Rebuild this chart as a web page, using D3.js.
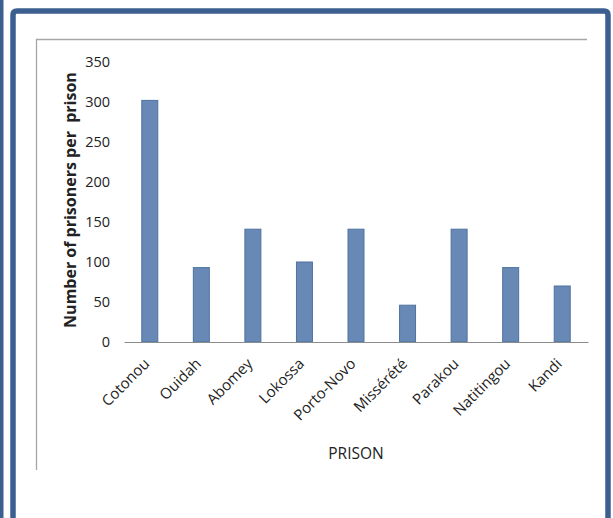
<!DOCTYPE html>
<html lang="en">
<head>
  <meta charset="UTF-8">
  <title>Number of prisoners per prison</title>
  <script src="https://d3js.org/d3.v7.min.js"></script>
  <style>
    body { margin: 0; background: #fff; }
    text { font-family: "Open Sans", "Liberation Sans", sans-serif; fill: #222; }
  </style>
</head>
<body>
  <div id="chart"></div>
  <script>
    const prisons = ["Cotonou", "Ouidah", "Abomey", "Lokossa", "Porto-Novo",
      "Missérété", "Parakou", "Natitingou", "Kandi"];
    const prisoners = [302, 93, 141, 100, 141, 46, 141, 93, 70];
    const y_ticks = [0, 50, 100, 150, 200, 250, 300, 350];

    const width = 613;
    const height = 518;
    const frame_color = "#3b6090";
    const bar_fill = "#6889b5";
    const bar_stroke = "#4d72a0";

    const svg = d3.select("#chart")
      .append("svg")
      .attr("width", width)
      .attr("height", height);

    // outer page frames
    svg.append("rect")
      .attr("x", 0).attr("y", 0)
      .attr("width", 3.5).attr("height", height)
      .attr("fill", frame_color);

    svg.append("path")
      .attr("d", "M13,540 V15 Q13,11 17,11 H604 Q608,11 608,15 V540")
      .attr("fill", "none")
      .attr("stroke", frame_color)
      .attr("stroke-width", 5.5);

    // chart area border (top + left only visible)
    svg.append("path")
      .attr("d", "M36.5,470 V39.5 H587")
      .attr("fill", "none")
      .attr("stroke", "#a6a6a6")
      .attr("stroke-width", 1.3);

    const x = d3.scaleBand()
      .domain(prisons)
      .range([124, 588])
      .paddingInner(0.69)
      .paddingOuter(0.345);

    const y = d3.scaleLinear()
      .domain([0, 350])
      .range([342, 62]);

    // bars
    svg.selectAll(".bar")
      .data(prisoners)
      .enter()
      .append("rect")
      .attr("class", "bar")
      .attr("x", (d, i) => x(prisons[i]))
      .attr("y", d => y(d))
      .attr("width", x.bandwidth())
      .attr("height", d => y(0) - y(d))
      .attr("fill", bar_fill)
      .attr("stroke", bar_stroke)
      .attr("stroke-width", 1);

    // y axis
    const yAxis = svg.append("g")
      .attr("transform", "translate(124,0)")
      .call(d3.axisLeft(y).tickValues(y_ticks).tickSize(0).tickPadding(14));
    yAxis.select(".domain").remove();
    yAxis.selectAll("text")
      .attr("font-size", 14.5)
      .style("font-family", "'Open Sans', sans-serif")
      .attr("fill", "#222");

    // x axis
    const xAxis = svg.append("g")
      .attr("transform", "translate(0,342)")
      .call(d3.axisBottom(x).tickSize(0).tickSizeOuter(0));
    xAxis.select(".domain")
      .attr("stroke", "#8c8c8c")
      .attr("stroke-width", 1.2);
    xAxis.selectAll("text")
      .attr("font-size", 15)
      .style("font-family", "'Open Sans', sans-serif")
      .attr("fill", "#222")
      .attr("text-anchor", "end")
      .attr("transform", "translate(-3,19) rotate(-45)")
      .attr("dy", "0.35em")
      .attr("y", 0);

    // axis titles
    svg.append("text")
      .attr("transform", "translate(76,200) rotate(-90)")
      .attr("text-anchor", "middle")
      .attr("font-size", 16)
      .attr("font-weight", "bold")
      .attr("fill", "#222")
      .style("white-space", "pre")
      .text("Number of prisoners per  prison");

    svg.append("text")
      .attr("x", 356)
      .attr("y", 459)
      .attr("text-anchor", "middle")
      .attr("font-size", 15.5)
      .attr("fill", "#222")
      .text("PRISON");
  </script>
</body>
</html>
